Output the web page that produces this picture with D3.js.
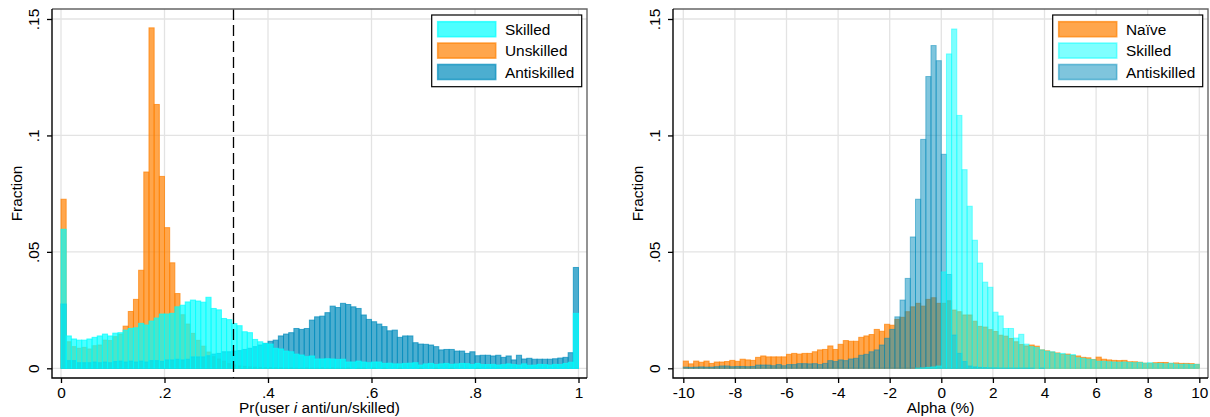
<!DOCTYPE html>
<html>
<head>
<meta charset="utf-8">
<script src="https://cdn.jsdelivr.net/npm/d3@7"></script>
<style>
  body { margin: 0; background: #fff; }
  svg { display: block; font-family: "Liberation Sans", Arial, sans-serif; }
</style>
</head>
<body>
<script>
// ---- data: left panel, Pr(user i anti/un/skilled), bins of width .01 from 0 to 1
const probBinWidth = 0.01;
const probBins = d3.range(100).map(i => i * probBinWidth);

const probSkilled = [
  0.0597,0.0139,0.0126,0.0121,0.0121,0.0126,0.0133,0.0139,0.0147,0.0139,
  0.0151,0.0153,0.0164,0.0171,0.0174,0.0193,0.0186,0.0203,0.0216,0.0233,
  0.0233,0.0236,0.0264,0.0271,0.0285,0.0293,0.0289,0.0284,0.0305,0.0257,
  0.0251,0.0214,0.0209,0.0192,0.0183,0.0157,0.0153,0.0124,0.0114,0.0107,
  0.0104,0.0086,0.0083,0.0074,0.0071,0.0061,0.0057,0.0050,0.0053,0.0040,
  0.0040,0.0041,0.0040,0.0038,0.0039,0.0027,0.0027,0.0031,0.0027,0.0024,
  0.0027,0.0027,0.0021,0.0022,0.0019,0.0019,0.0021,0.0022,0.0024,0.0014,
  0.0019,0.0021,0.0016,0.0019,0.0021,0.0017,0.0019,0.0021,0.0020,0.0016,
  0.0021,0.0016,0.0016,0.0017,0.0014,0.0016,0.0019,0.0016,0.0014,0.0019,
  0.0013,0.0014,0.0017,0.0016,0.0014,0.0017,0.0016,0.0021,0.0026,0.0236
];
const probUnskilled = [
  0.0726,0.0114,0.0093,0.0086,0.0090,0.0083,0.0097,0.0100,0.0121,0.0119,
  0.0136,0.0147,0.0181,0.0244,0.0296,0.0421,0.0843,0.1462,0.1133,0.0824,
  0.0604,0.0453,0.0321,0.0230,0.0190,0.0150,0.0120,0.0095,0.0070,0.0050,
  0.0040,0.0030,0.0020,0.0015,0.0010,0.0008,0.0006,0.0005,0.0004,0.0003,
  0.0003,0.0002,0.0002,0.0001,0.0002,0.0001,0.0001,0.0002,0.0001,0.0001,
  0.0002,0.0001,0.0002,0.0001,0.0001,0.0002,0.0000,0.0001,0.0001,0.0000,
  0.0001,0.0000,0.0001,0.0000,0.0000,0.0001,0.0000,0.0000,0.0000,0.0001,
  0.0000,0.0000,0.0001,0.0000,0.0000,0.0001,0.0000,0.0000,0.0000,0.0000,
  0.0001,0.0000,0.0000,0.0000,0.0000,0.0000,0.0000,0.0000,0.0000,0.0000,
  0.0000,0.0000,0.0000,0.0000,0.0000,0.0000,0.0000,0.0000,0.0000,0.0000
];
const probAntiskilled = [
  0.0276,0.0033,0.0033,0.0024,0.0024,0.0024,0.0027,0.0024,0.0027,0.0024,
  0.0029,0.0031,0.0027,0.0031,0.0027,0.0031,0.0027,0.0033,0.0033,0.0030,
  0.0036,0.0036,0.0039,0.0036,0.0039,0.0049,0.0049,0.0049,0.0054,0.0061,
  0.0064,0.0071,0.0071,0.0074,0.0076,0.0081,0.0086,0.0093,0.0100,0.0107,
  0.0116,0.0121,0.0139,0.0147,0.0153,0.0171,0.0167,0.0171,0.0207,0.0221,
  0.0224,0.0239,0.0267,0.0261,0.0279,0.0274,0.0264,0.0257,0.0229,0.0210,
  0.0200,0.0190,0.0179,0.0161,0.0164,0.0133,0.0139,0.0139,0.0110,0.0104,
  0.0103,0.0100,0.0093,0.0079,0.0081,0.0081,0.0074,0.0074,0.0064,0.0071,
  0.0054,0.0056,0.0056,0.0053,0.0056,0.0047,0.0053,0.0036,0.0056,0.0040,
  0.0043,0.0039,0.0039,0.0039,0.0039,0.0041,0.0044,0.0047,0.0067,0.0433
];

// ---- data: right panel, Alpha (%), bins of width .2 from -10 to 10
const alphaBinWidth = 0.2;
const alphaBins = d3.range(100).map(i => -10 + i * alphaBinWidth);

const alphaNaive = [
  0.0031,0.0019,0.0031,0.0026,0.0031,0.0021,0.0027,0.0027,0.0029,0.0034,
  0.0030,0.0039,0.0036,0.0034,0.0047,0.0053,0.0049,0.0049,0.0049,0.0049,
  0.0060,0.0064,0.0061,0.0064,0.0064,0.0071,0.0079,0.0081,0.0096,0.0081,
  0.0103,0.0119,0.0116,0.0116,0.0133,0.0139,0.0145,0.0167,0.0159,0.0189,
  0.0185,0.0210,0.0219,0.0243,0.0264,0.0279,0.0267,0.0296,0.0303,0.0279,
  0.0279,0.0290,0.0250,0.0243,0.0229,0.0229,0.0202,0.0180,0.0177,0.0166,
  0.0158,0.0142,0.0138,0.0128,0.0114,0.0102,0.0096,0.0100,0.0095,0.0079,
  0.0075,0.0070,0.0066,0.0060,0.0061,0.0055,0.0053,0.0047,0.0045,0.0038,
  0.0048,0.0039,0.0036,0.0034,0.0033,0.0034,0.0028,0.0028,0.0026,0.0022,
  0.0021,0.0024,0.0025,0.0025,0.0021,0.0023,0.0021,0.0021,0.0020,0.0017
];
const alphaSkilled = [
  0,0,0,0,0,0,0,0,0,0,
  0,0,0,0,0,0,0,0,0,0,
  0,0,0,0,0,0,0,0,0,0,
  0,0,0,0,0,0,0,0,0,0,
  0,0,0,0,0,0.0001,0.0002,0.0004,0.0006,0.0010,
  0.0414,0.1350,0.1457,0.1086,0.0853,0.0696,0.0550,0.0452,0.0370,0.0348,
  0.0241,0.0225,0.0171,0.0171,0.0130,0.0146,0.0104,0.0093,0.0089,0.0079,
  0.0073,0.0071,0.0064,0.0064,0.0057,0.0059,0.0045,0.0043,0.0039,0.0037,
  0.0030,0.0030,0.0028,0.0027,0.0026,0.0027,0.0025,0.0024,0.0025,0.0022,
  0.0024,0.0020,0.0021,0.0019,0.0022,0.0018,0.0017,0.0018,0.0016,0.0017
];
const alphaAntiskilled = [
  0.0005,0.0004,0.0005,0.0006,0.0005,0.0005,0.0007,0.0010,0.0010,0.0007,
  0.0008,0.0008,0.0007,0.0008,0.0014,0.0014,0.0014,0.0011,0.0016,0.0011,
  0.0016,0.0016,0.0020,0.0020,0.0019,0.0020,0.0016,0.0021,0.0033,0.0029,
  0.0036,0.0033,0.0040,0.0043,0.0056,0.0060,0.0071,0.0079,0.0100,0.0129,
  0.0167,0.0221,0.0293,0.0386,0.0564,0.0726,0.0983,0.1253,0.1386,0.1321,
  0.0919,0.0403,0.0143,0.0064,0.0029,0.0010,0.0006,0.0004,0.0003,0.0002,
  0.0002,0.0001,0.0001,0.0001,0.0001,0.0001,0.0001,0.0001,0,0.0001,
  0,0,0,0,0,0,0,0,0,0,
  0,0,0,0,0,0,0,0,0,0,
  0,0,0,0,0,0,0,0,0,0
];

// ---- ticks
const yTicks = [0, 0.05, 0.1, 0.15];
const yTickLabels = ['0', '.05', '.1', '.15'];
const probTicks = [0, 0.2, 0.4, 0.6, 0.8, 1];
const probTickLabels = ['0', '.2', '.4', '.6', '.8', '1'];
const alphaTicks = [-10, -8, -6, -4, -2, 0, 2, 4, 6, 8, 10];
const alphaTickLabels = ['-10', '-8', '-6', '-4', '-2', '0', '2', '4', '6', '8', '10'];

// stata colours
const cyan = 'rgb(0,255,255)';
const orange = 'rgb(255,128,0)';
const ebblue = 'rgb(0,139,188)';

const width = 1210;
const height = 417;
const fontSize = 15.4;
const plotTop = 9;
const plotBottom = 378;

const svg = d3.select('body').append('svg')
    .attr('width', width)
    .attr('height', height);

const y = d3.scaleLinear()
  .domain([0, 0.15])
  .range([368.3, 19]);

function panel(opts) {
  const { left, right, x, xTicks, xTickLabels, series, legend, title } = opts;
  const g = svg.append('g');

  // grid
  g.append('g').selectAll('line').data(yTicks).join('line')
      .attr('x1', left).attr('x2', right)
      .attr('y1', d => y(d)).attr('y2', d => y(d))
      .attr('stroke', '#e3e3e3').attr('stroke-width', 1.3);
  g.append('g').selectAll('line').data(xTicks).join('line')
      .attr('x1', d => x(d)).attr('x2', d => x(d))
      .attr('y1', plotTop).attr('y2', plotBottom)
      .attr('stroke', '#e3e3e3').attr('stroke-width', 1.3);

  // bars, first drawn underneath
  series.forEach(s => {
    const bars = s.values.map((v, i) => ({ x0: s.bins[i], v })).filter(d => d.v > 0);
    g.append('g').selectAll('rect').data(bars).join('rect')
        .attr('x', d => x(d.x0))
        .attr('width', d => x(d.x0 + s.binWidth) - x(d.x0))
        .attr('y', d => y(d.v))
        .attr('height', d => y(0) - y(d.v))
        .attr('fill', s.color).attr('fill-opacity', s.opacity)
        .attr('stroke', s.color).attr('stroke-opacity', s.opacity)
        .attr('stroke-width', 1);
  });

  if (opts.refLine !== undefined) {
    g.append('line')
        .attr('x1', x(opts.refLine)).attr('x2', x(opts.refLine))
        .attr('y1', plotTop).attr('y2', plotBottom)
        .attr('stroke', '#000').attr('stroke-width', 1.3)
        .attr('stroke-dasharray', '11,5');
  }

  // frame
  g.append('path')
      .attr('d', `M${left},${plotTop}H${right}V${plotBottom}`)
      .attr('fill', 'none').attr('stroke', '#666').attr('stroke-width', 1.4);
  g.append('path')
      .attr('d', `M${left},${plotTop}V${plotBottom}H${right}`)
      .attr('fill', 'none').attr('stroke', '#000').attr('stroke-width', 1.4);

  // x axis
  const xAxis = d3.axisBottom(x)
    .tickValues(xTicks)
    .tickFormat((d, i) => xTickLabels[i])
    .tickSize(5)
    .tickSizeOuter(0);
  const gx = g.append('g')
      .attr('transform', `translate(0, ${plotBottom})`)
      .call(xAxis);
  gx.select('.domain').remove();
  gx.selectAll('line').attr('stroke', '#000').attr('stroke-width', 1.3);
  gx.selectAll('text')
      .attr('y', 19.7).attr('dy', null)
      .attr('fill', '#000')
      .style('font-size', fontSize + 'px')
      .style('font-family', '"Liberation Sans", Arial, sans-serif');

  // y axis
  const yAxis = d3.axisLeft(y)
    .tickValues(yTicks)
    .tickFormat((d, i) => yTickLabels[i])
    .tickSize(5)
    .tickSizeOuter(0);
  const gy = g.append('g')
      .attr('transform', `translate(${left}, 0)`)
      .call(yAxis);
  gy.select('.domain').remove();
  gy.selectAll('line').attr('stroke', '#000').attr('stroke-width', 1.3);
  gy.selectAll('text')
      .attr('x', null).attr('dy', null)
      .attr('text-anchor', 'middle')
      .attr('transform', 'translate(-13.5, 0) rotate(-90)')
      .attr('fill', '#000')
      .style('font-size', fontSize + 'px')
      .style('font-family', '"Liberation Sans", Arial, sans-serif');

  // axis titles
  g.append('text')
      .attr('transform', `translate(${left - 30.5}, ${(plotTop + plotBottom) / 2}) rotate(-90)`)
      .attr('text-anchor', 'middle')
      .style('font-size', fontSize + 'px')
      .text('Fraction');
  const t = g.append('text')
      .attr('x', (left + right) / 2)
      .attr('y', 413)
      .attr('text-anchor', 'middle')
      .style('font-size', fontSize + 'px');
  title.forEach(part => {
    t.append('tspan').attr('font-style', part.italic ? 'italic' : null).text(part.text);
  });

  // legend
  const lx = right - 155.3;
  const lg = g.append('g').attr('transform', `translate(${lx}, 15)`);
  lg.append('rect')
      .attr('width', 150).attr('height', 71.7)
      .attr('fill', '#fff').attr('stroke', '#000').attr('stroke-width', 1.2);
  legend.forEach((s, i) => {
    const ry = 6.7 + i * 21.4;
    lg.append('rect')
        .attr('x', 6).attr('y', ry)
        .attr('width', 58).attr('height', 15)
        .attr('fill', s.color).attr('fill-opacity', s.opacity)
        .attr('stroke', s.color).attr('stroke-opacity', s.opacity)
        .attr('stroke-width', 1.6);
    lg.append('text')
        .attr('x', 73.3).attr('y', ry + 13.3)
        .style('font-size', fontSize + 'px')
        .text(s.label);
  });
}

const xProb = d3.scaleLinear().domain([0, 1]).range([61, 578.5]);
const xAlpha = d3.scaleLinear().domain([-10, 10]).range([683.3, 1199.3]);

const probSeries = {
  skilled: { label: 'Skilled', values: probSkilled, color: cyan, opacity: 0.7 },
  unskilled: { label: 'Unskilled', values: probUnskilled, color: orange, opacity: 0.7 },
  antiskilled: { label: 'Antiskilled', values: probAntiskilled, color: ebblue, opacity: 0.7 }
};
Object.values(probSeries).forEach(s => { s.bins = probBins; s.binWidth = probBinWidth; });

panel({
  left: 52, right: 587, x: xProb,
  xTicks: probTicks, xTickLabels: probTickLabels,
  series: [probSeries.unskilled, probSeries.antiskilled, probSeries.skilled],
  legend: [probSeries.skilled, probSeries.unskilled, probSeries.antiskilled],
  refLine: 1 / 3,
  title: [{ text: 'Pr(user ' }, { text: 'i', italic: true }, { text: ' anti/un/skilled)' }]
});

const alphaSeries = {
  naive: { label: 'Naïve', values: alphaNaive, color: orange, opacity: 0.7 },
  skilled: { label: 'Skilled', values: alphaSkilled, color: cyan, opacity: 0.5 },
  antiskilled: { label: 'Antiskilled', values: alphaAntiskilled, color: ebblue, opacity: 0.5 }
};
Object.values(alphaSeries).forEach(s => { s.bins = alphaBins; s.binWidth = alphaBinWidth; });

panel({
  left: 673, right: 1208, x: xAlpha,
  xTicks: alphaTicks, xTickLabels: alphaTickLabels,
  series: [alphaSeries.naive, alphaSeries.antiskilled, alphaSeries.skilled],
  legend: [alphaSeries.naive, alphaSeries.skilled, alphaSeries.antiskilled],
  title: [{ text: 'Alpha (%)' }]
});
</script>
</body>
</html>
